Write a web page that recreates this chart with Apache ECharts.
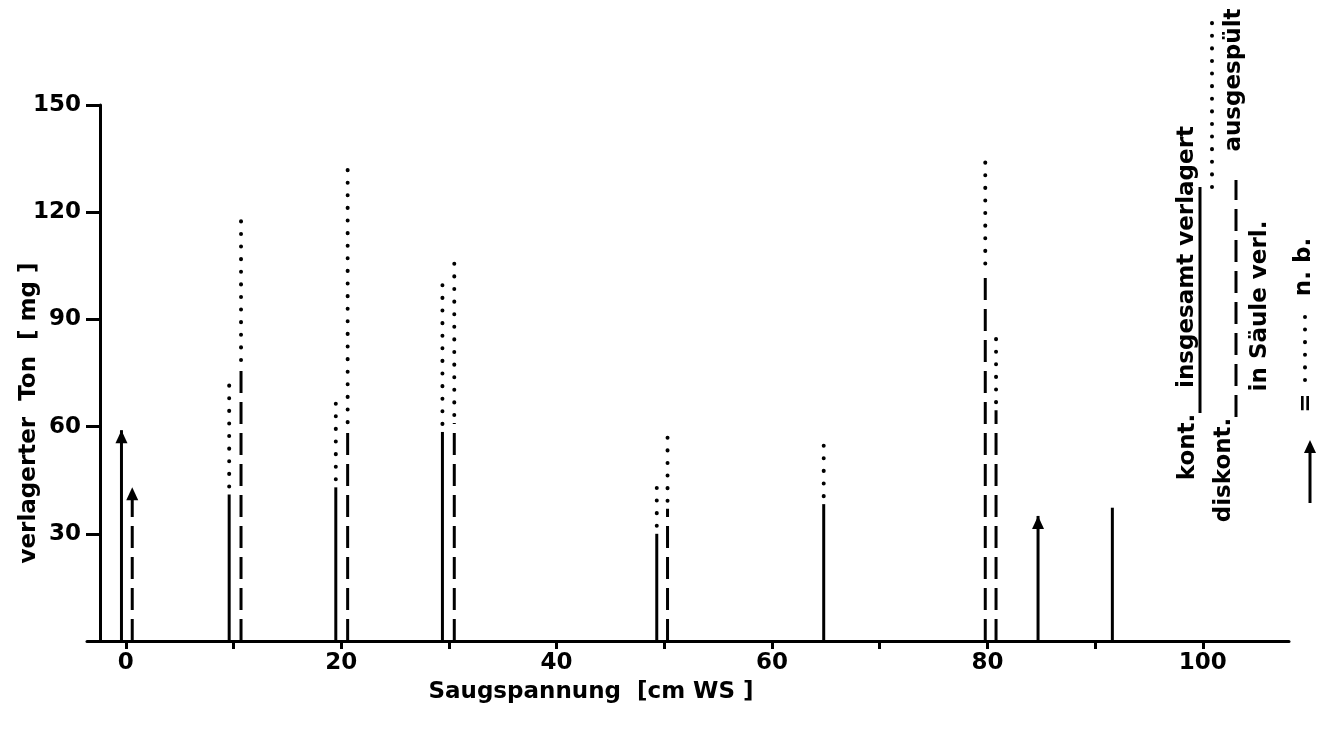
<!DOCTYPE html>
<html>
<head>
<meta charset="utf-8">
<script src="https://cdn.jsdelivr.net/npm/echarts@6/dist/echarts.min.js"></script>
<style>
  html, body { margin: 0; padding: 0; background: #fff; }
  #chart { width: 1319px; height: 729px; }
</style>
</head>
<body>
<div id="chart"></div>
<script>
// kontinuierlich (solid stems), Saugspannung offset slightly left of the nominal value
var kontX      = [-0.4, 9.6, 19.5, 29.4, 49.3, 64.8, 84.7, 91.6];
var kontSaule  = [59, 41, 43, 58.5, 30, 38.3, 35, 37.3];
var kontGesamt = [null, 72, 69, 100, 43.7, 55.5, null, 37.3];   // null = n. b.

// diskontinuierlich (dashed stems)
var diskX      = [0.6, 10.7, 20.6, 30.5, 50.3, 79.8, 80.8];
var diskSaule  = [43, 76.4, 59, 61, 37, 103.4, 64.6];
var diskGesamt = [null, 120, 132, 107.5, 57.7, 135.5, 84.8];

var xTicks = [0, 10, 20, 30, 40, 50, 60, 70, 80, 90, 100];
var xLabels = [0, 20, 40, 60, 80, 100];
var yTicks = [30, 60, 90, 120, 150];

var FONT = '"DejaVu Sans"';
var BLACK = '#000';
var DOT = [0.1, 12.5];
var DASH = [22, 9];

function segs(xs, lo, hi) {
  var out = [];
  xs.forEach(function (x, i) {
    var a = lo ? lo[i] : 0;
    var b = hi[i];
    if (a == null || b == null || b <= a) return;
    out.push([x, a, b]);
  });
  return out;
}

function nbPoints(xs, saule, gesamt) {
  var out = [];
  xs.forEach(function (x, i) {
    if (gesamt[i] == null) out.push([x, saule[i]]);
  });
  return out;
}

function stemSeries(data, dash) {
  var dotted = dash === DOT;
  return {
    type: 'custom',
    data: data,
    silent: true,
    renderItem: function (params, api) {
      var p0 = api.coord([api.value(0), api.value(1)]);
      var p1 = api.coord([api.value(0), api.value(2)]);
      if (dotted) p0[1] -= 8;
      return {
        type: 'line',
        shape: { x1: p0[0], y1: p0[1], x2: p1[0], y2: p1[1] },
        style: { stroke: BLACK, lineWidth: dotted ? 4 : 3, lineDash: dash, lineCap: dotted ? 'round' : 'butt' }
      };
    }
  };
}

var arrowSeries = {
  type: 'custom',
  silent: true,
  data: nbPoints(kontX, kontSaule, kontGesamt).concat(nbPoints(diskX, diskSaule, diskGesamt)),
  renderItem: function (params, api) {
    var p = api.coord([api.value(0), api.value(1)]);
    return {
      type: 'polygon',
      shape: { points: [[p[0], p[1]], [p[0] - 6, p[1] + 13], [p[0] + 6, p[1] + 13]] },
      style: { fill: BLACK }
    };
  }
};

function rotText(x, y, text, size) {
  return {
    type: 'text', x: x, y: y, rotation: Math.PI / 2,
    style: { text: text, fill: BLACK, font: 'bold ' + (size || 23) + 'px ' + FONT, align: 'center', verticalAlign: 'middle' }
  };
}
function vline(x, y1, y2, dash) {
  var dotted = dash === DOT;
  return {
    type: 'line', shape: { x1: x, y1: y1, x2: x, y2: y2 },
    style: { stroke: BLACK, lineWidth: dotted ? 4 : 3, lineDash: dash || null, lineCap: dotted ? 'round' : 'butt' }
  };
}

var chart = echarts.init(document.getElementById('chart'));
chart.setOption({
  backgroundColor: '#fff',
  animation: false,
  grid: { left: 87, right: 30, top: 105, bottom: 88 },
  xAxis: {
    type: 'value', min: -3.6, max: 108,
    axisLine: { lineStyle: { color: BLACK, width: 3 } },
    axisTick: { show: true, customValues: xTicks, length: 8, lineStyle: { color: BLACK, width: 3 } },
    axisLabel: { customValues: xLabels, color: BLACK, fontSize: 23, fontWeight: 'bold', fontFamily: FONT, margin: 11 },
    splitLine: { show: false }
  },
  yAxis: {
    type: 'value', min: 0, max: 150, offset: -13,
    axisLine: { show: true, onZero: false, lineStyle: { color: BLACK, width: 3 } },
    axisTick: { show: true, customValues: yTicks, length: 14, lineStyle: { color: BLACK, width: 3 } },
    axisLabel: { customValues: yTicks, color: BLACK, fontSize: 23, fontWeight: 'bold', fontFamily: FONT, margin: 19 },
    splitLine: { show: false }
  },
  series: [
    stemSeries(segs(kontX, null, kontSaule), null),
    stemSeries(segs(kontX, kontSaule, kontGesamt), DOT),
    stemSeries(segs(diskX, null, diskSaule), DASH),
    stemSeries(segs(diskX, diskSaule, diskGesamt), DOT),
    arrowSeries
  ],
  graphic: [
    {
      type: 'text', x: 591, y: 692,
      style: { text: 'Saugspannung  [cm WS ]', fill: BLACK, font: 'bold 23px ' + FONT, align: 'center', verticalAlign: 'middle' }
    },
    rotText(29, 413, 'verlagerter  Ton  [ mg ]', 23),
    // legend
    rotText(1188, 447, 'kont.'),
    rotText(1187, 257, 'insgesamt verlagert'),
    vline(1200, 413, 187),
    vline(1212, 187, 14, DOT),
    rotText(1234, 80, 'ausgespült'),
    rotText(1224, 470, 'diskont.'),
    vline(1236, 417, 180, DASH),
    rotText(1260, 306, 'in Säule verl.'),
    vline(1310, 503, 450),
    { type: 'polygon', shape: { points: [[1310, 440], [1304, 453], [1316, 453]] }, style: { fill: BLACK } },
    rotText(1306, 403, '='),
    vline(1305, 380, 313, DOT),
    rotText(1304, 267, 'n. b.')
  ]
});
</script>
</body>
</html>
